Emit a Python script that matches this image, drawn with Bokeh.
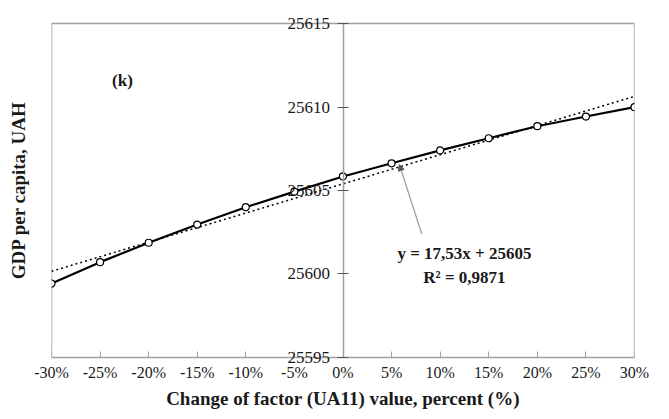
import numpy as np
from bokeh.plotting import figure
from bokeh.models import (LinearAxis, FixedTicker, CustomJSTickFormatter, Arrow,
                          NormalHead, Label, ColumnDataSource, Range1d)
from bokeh.embed import file_html
from bokeh.resources import INLINE

# ---- data ----
CHANGE_PCT = [-30, -25, -20, -15, -10, -5, 0, 5, 10, 15, 20, 25, 30]
GDP = [25599.43, 25600.71, 25601.87, 25602.96, 25604.00, 25604.93, 25605.84,
       25606.63, 25607.40, 25608.13, 25608.85, 25609.43, 25609.99]
Y_TICKS = [25595, 25600, 25605, 25610, 25615]
X_TICKS = CHANGE_PCT
X_MIN, X_MAX = -30, 30
Y_MIN, Y_MAX = 25595, 25615
PANEL_TAG = "(k)"
EQ_TEXT = "y = 17,53x + 25605"
R2_TEXT = "R\u00b2 = 0,9871"
X_LABEL = "Change of factor (UA11) value, percent (%)"
Y_LABEL = "GDP per capita, UAH"

FONT = "Liberation Serif"
GRAY = "#a0a0a0"
TXT = "#1a1a1a"

# linear trend (x as fraction)
slope, intercept = np.polyfit(np.array(CHANGE_PCT) / 100.0, np.array(GDP), 1)
trend_x = [X_MIN, X_MAX]
trend_y = [intercept + slope * v / 100.0 for v in trend_x]

# frame is a little taller than the plot box so that the end tick labels are not clipped
PAD_TOP, PAD_BOTTOM = 0.42, 0.36
W, H = 669, 419
p = figure(width=W, height=H, output_backend="svg", toolbar_location=None,
           x_range=Range1d(X_MIN, X_MAX),
           y_range=Range1d(Y_MIN - PAD_BOTTOM, Y_MAX + PAD_TOP),
           min_border_left=51, min_border_right=W - 634, min_border_top=16,
           min_border_bottom=H - 363)
p.background_fill_color = "white"
p.border_fill_color = "white"
p.outline_line_color = None
p.xgrid.visible = False
p.ygrid.visible = False

# plot box
p.quad(left=[X_MIN], right=[X_MAX], bottom=[Y_MIN], top=[Y_MAX],
       fill_color=None, line_color=GRAY, line_width=1.5)

# bottom axis: tick labels and title only
xa = p.xaxis[0]
xa.ticker = FixedTicker(ticks=X_TICKS)
xa.formatter = CustomJSTickFormatter(code="return tick + '%';")
xa.major_tick_in = 0
xa.major_tick_out = 0
xa.major_tick_line_color = None
xa.minor_tick_line_color = None
xa.axis_line_color = None
xa.major_label_text_font = FONT
xa.major_label_text_font_size = "16px"
xa.major_label_text_color = TXT
xa.major_label_standoff = 0
xa.axis_label = X_LABEL
xa.axis_label_text_font = FONT
xa.axis_label_text_font_style = "bold"
xa.axis_label_text_font_size = "19px"
xa.axis_label_text_color = TXT
xa.axis_label_standoff = 4

# x ticks on the bottom edge of the box
xt = LinearAxis(ticker=FixedTicker(ticks=X_TICKS), fixed_location=Y_MIN,
                bounds=(X_MIN, X_MAX))
xt.major_tick_in = 6
xt.major_tick_out = 0
xt.major_tick_line_color = GRAY
xt.minor_tick_line_color = None
xt.axis_line_color = None
xt.major_label_text_alpha = 0
p.add_layout(xt, "below")

# y axis at x = 0
ya = p.yaxis[0]
ya.fixed_location = 0
ya.bounds = (Y_MIN, Y_MAX)
ya.ticker = FixedTicker(ticks=Y_TICKS)
ya.major_tick_in = 5
ya.major_tick_out = 6
ya.minor_tick_line_color = None
ya.major_tick_line_color = "#555555"
ya.axis_line_color = GRAY
ya.axis_line_width = 1.5
ya.major_label_text_font = FONT
ya.major_label_text_font_size = "17px"
ya.major_label_text_color = TXT
ya.major_label_standoff = 7

# axis for the y label only
ylab = LinearAxis(ticker=FixedTicker(ticks=[]), axis_label=Y_LABEL)
ylab.axis_line_color = None
ylab.major_tick_line_color = None
ylab.minor_tick_line_color = None
ylab.major_tick_out = 0
ylab.major_label_standoff = 0
ylab.axis_label_text_font = FONT
ylab.axis_label_text_font_style = "bold"
ylab.axis_label_text_font_size = "19px"
ylab.axis_label_text_color = TXT
ylab.axis_label_standoff = 23
p.add_layout(ylab, "left")

# trend line (dotted)
p.line(trend_x, trend_y, line_color="black", line_width=1.5, line_dash="2 3")

# data
src = ColumnDataSource(dict(x=CHANGE_PCT, y=GDP))
p.line("x", "y", source=src, line_color="black", line_width=2.2)
p.scatter("x", "y", source=src, size=7, fill_color="white", line_color="black",
          line_width=1.2)

# arrow pointing to the trend line
p.add_layout(Arrow(x_start=8.1, y_start=25602.41, x_end=5.8, y_end=25606.55,
                   line_color=GRAY, line_width=1.3,
                   end=NormalHead(size=6, fill_color="#555555", line_color="#555555")))

common = dict(text_font=FONT, text_font_style="bold", text_font_size="17px",
              text_color=TXT, text_align="center", text_baseline="middle")
p.add_layout(Label(x=12.5, y=25601.23, text=EQ_TEXT, **common))
p.add_layout(Label(x=12.5, y=25599.79, text=R2_TEXT, **common))
p.add_layout(Label(x=-22.7, y=25611.6, text=PANEL_TAG, **common))

open("out.html", "w").write(file_html(p, INLINE))
